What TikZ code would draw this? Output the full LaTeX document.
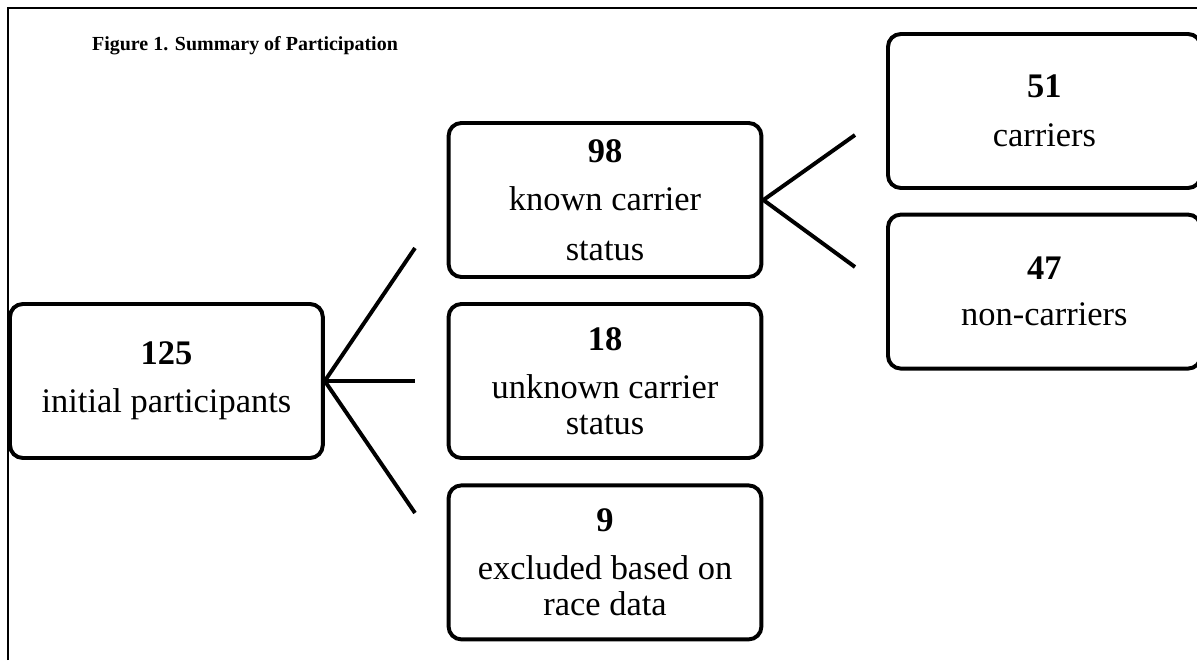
\documentclass[tikz,border=0pt]{standalone}
\usepackage{fontspec}
\setmainfont{Liberation Serif}
\usepackage{tikz}
\usetikzlibrary{positioning}
\tikzstyle{countbox} = [draw, line width=2.8pt, rounded corners=0.32cm, minimum width=7.82cm, minimum height=3.85cm, align=center, inner sep=0pt, font=\fontsize{24.5}{34.5}\selectfont]
\tikzstyle{branch} = [line width=2.8pt]

\begin{document}
\begin{tikzpicture}
\useasboundingbox (0,0) rectangle (29.925,16.5);
% Frame
\draw[line width=2.1pt] (0.2,0) -- (0.2,16.3) -- (30.2,16.3);
\node[anchor=base west, font=\fontsize{14.2}{17}\selectfont\bfseries] (title) at (2.18,15.225) {Figure 1. Summary of Participation};

% Boxes
\node[countbox] (initial) at (4.16,6.975) {\textbf{125}\\ initial participants};
\node[countbox] (known) at (15.125,11.5) {\textbf{98}\\ known carrier\\[1pt] status};
\node[countbox] (unknown) at (15.125,6.975) {\textbf{18}\\ unknown carrier\\[-9pt] status};
\node[countbox] (excluded) at (15.125,2.44) {\textbf{9}\\ excluded based on\\[-9pt] race data};
\node[countbox] (carriers) at (26.11,13.725) {\textbf{51}\\ carriers};
\node[countbox] (noncarriers) at (26.11,9.21) {\textbf{47}\\[-2pt] non-carriers};

% Free ends
\coordinate (a1) at (10.375,10.3);
\coordinate (a2) at (10.375,6.975);
\coordinate (a3) at (10.375,3.675);
\coordinate (b1) at (21.375,13.125);
\coordinate (b2) at (21.375,9.825);

% Lines
\draw[branch] (a1) -- (initial.east) -- (a3);
\draw[branch] (initial.east) -- (a2);
\draw[branch] (b1) -- (known.east) -- (b2);
\end{tikzpicture}
\end{document}
